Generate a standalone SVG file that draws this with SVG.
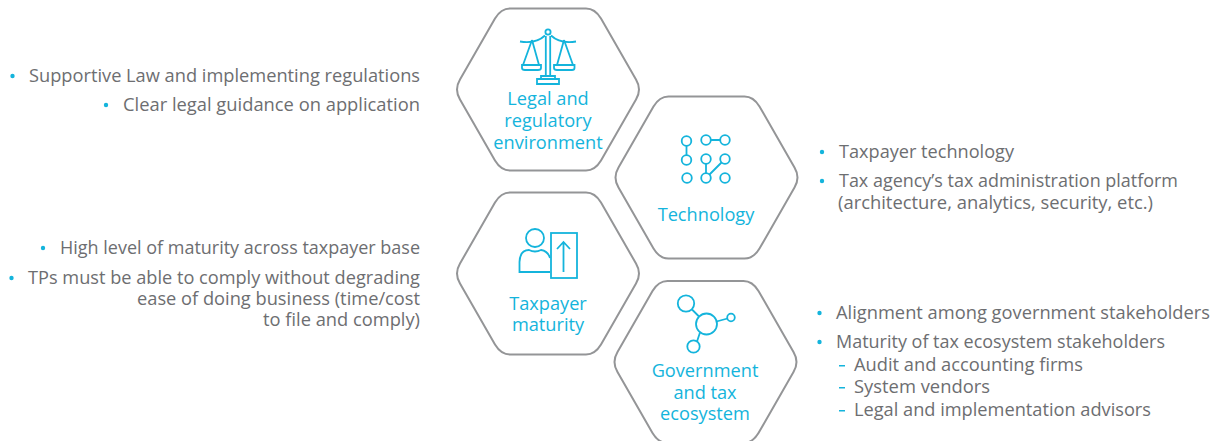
<svg xmlns="http://www.w3.org/2000/svg" width="1220" height="441" viewBox="0 0 1220 441">
<style>
text{font-family:"Open Sans","Noto Sans",sans-serif}
.b{font-size:18.200px;fill:#6d6e71}
.e{text-anchor:end}
.l{font-size:18.200px;fill:#14b4dc;text-anchor:middle}
.h{fill:#fff;stroke:#949597;stroke-width:2}
.i{fill:none;stroke:#14b4dc;stroke-width:1.800}
.d{fill:#14b4dc}
</style>
<defs>
<path id="hex" d="M-38-81H38Q47-81 53-71L88-10Q94 0 88 10L53 71Q47 81 38 81H-38Q-47 81-53 71L-88 10Q-94 0-88-10L-53-71Q-47-81-38-81Z"/>
</defs>
<rect width="1220" height="441" fill="#fff"/>
<g id="node-legal">
<use href="#hex" class="h" x="548" y="89.500"/>
<g class="i">
<circle cx="548" cy="32" r="2.600"/>
<path d="M545.800 36V76M550.200 36V76M520 41.500Q536 44 545 35.500M576 41.500Q560 44 551 35.500"/>
<path d="M532 40L523 65M532 40L539 65M564 40L557 65M564 40L573 65"/>
<path d="M522 65H541V68Q541 70 538 70H525Q522 70 522 68ZM554 65H574.500V68Q574.500 70 572 70H557Q554 70 554 68Z"/>
<path d="M541 76H555V79H541ZM537 79H559V84H537Z"/>
</g>
<text class="l" x="548" y="105">Legal and</text>
<text class="l" x="548" y="127">regulatory</text>
<text class="l" x="548" y="149">environment</text>
</g>
<g id="node-technology">
<use href="#hex" class="h" x="706.500" y="177.500"/>
<g class="i">
<circle cx="686.500" cy="141" r="4.800"/><circle cx="686.500" cy="160" r="4.800"/><circle cx="687" cy="178" r="4.800"/>
<circle cx="706" cy="140" r="4.800"/><circle cx="725" cy="140" r="4.800"/>
<circle cx="706" cy="159" r="4.800"/><circle cx="725" cy="159" r="4.800"/>
<circle cx="706" cy="178" r="4.800"/><circle cx="725" cy="178" r="4.800"/>
<path d="M686.500 146V155M711 140H720M706 164V173M709.500 174.500L721.500 162.500"/>
</g>
<text class="l" x="706" y="221">Technology</text>
</g>
<g id="node-taxpayer">
<use href="#hex" class="h" x="548" y="273.500"/>
<g class="i">
<circle cx="535" cy="238" r="9"/>
<path d="M550 272H519.500V262Q520 250 529 250Q535 253 541 250Q548 251 550 258"/>
<rect x="551" y="233" width="26" height="45"/>
<path d="M563.500 272V242M557 249L563.500 242L570 249"/>
</g>
<text class="l" x="548" y="310">Taxpayer</text>
<text class="l" x="548" y="331">maturity</text>
</g>
<g id="node-government">
<use href="#hex" class="h" x="705.500" y="362"/>
<g class="i">
<circle cx="686" cy="303.500" r="8.200"/>
<circle cx="706.500" cy="324" r="10.500"/>
<circle cx="731" cy="317.500" r="3.800"/>
<circle cx="693.500" cy="346.500" r="6.200"/>
<path d="M692 309.500L699 316.500M716.500 321.500L727.500 318.500M700 332.500L697 341.500"/>
</g>
<text class="l" x="705" y="377">Government</text>
<text class="l" x="705" y="399">and tax</text>
<text class="l" x="705" y="420">ecosystem</text>
</g>
<g id="notes-left">
<circle class="d" cx="12.500" cy="76" r="2.200"/>
<text class="b e" x="420" y="82" textLength="391" lengthAdjust="spacingAndGlyphs">Supportive Law and implementing regulations</text>
<circle class="d" cx="106" cy="105" r="2.200"/>
<text class="b e" x="420" y="111" textLength="297" lengthAdjust="spacingAndGlyphs">Clear legal guidance on application</text>
<circle class="d" cx="43" cy="248" r="2.200"/>
<text class="b e" x="420" y="254" textLength="360" lengthAdjust="spacingAndGlyphs">High level of maturity across taxpayer base</text>
<circle class="d" cx="11.500" cy="278" r="2.200"/>
<text class="b e" x="420" y="283.500" textLength="392" lengthAdjust="spacingAndGlyphs">TPs must be able to comply without degrading</text>
<text class="b e" x="420" y="305" textLength="283" lengthAdjust="spacingAndGlyphs">ease of doing business (time/cost</text>
<text class="b e" x="420" y="326" textLength="157" lengthAdjust="spacingAndGlyphs">to file and comply)</text>
</g>
<g id="notes-right">
<circle class="d" cx="822" cy="152" r="2.200"/>
<text class="b" x="839" y="158" textLength="175" lengthAdjust="spacingAndGlyphs">Taxpayer technology</text>
<circle class="d" cx="822" cy="181" r="2.200"/>
<text class="b" x="839" y="187" textLength="339" lengthAdjust="spacingAndGlyphs">Tax agency’s tax administration platform</text>
<text class="b" x="838" y="209" textLength="315" lengthAdjust="spacingAndGlyphs">(architecture, analytics, security, etc.)</text>
<circle class="d" cx="819.500" cy="313" r="2.200"/>
<text class="b" x="836" y="319" textLength="374" lengthAdjust="spacingAndGlyphs">Alignment among government stakeholders</text>
<circle class="d" cx="819.500" cy="342" r="2.200"/>
<text class="b" x="836" y="348" textLength="329" lengthAdjust="spacingAndGlyphs">Maturity of tax ecosystem stakeholders</text>
<path class="d" d="M839 365h6v1.500h-6zM839 387h6v1.500h-6zM839 410h6v1.500h-6z"/>
<text class="b" x="854" y="371" textLength="229" lengthAdjust="spacingAndGlyphs">Audit and accounting firms</text>
<text class="b" x="854" y="393" textLength="136" lengthAdjust="spacingAndGlyphs">System vendors</text>
<text class="b" x="854" y="416" textLength="297" lengthAdjust="spacingAndGlyphs">Legal and implementation advisors</text>
</g>
</svg>
